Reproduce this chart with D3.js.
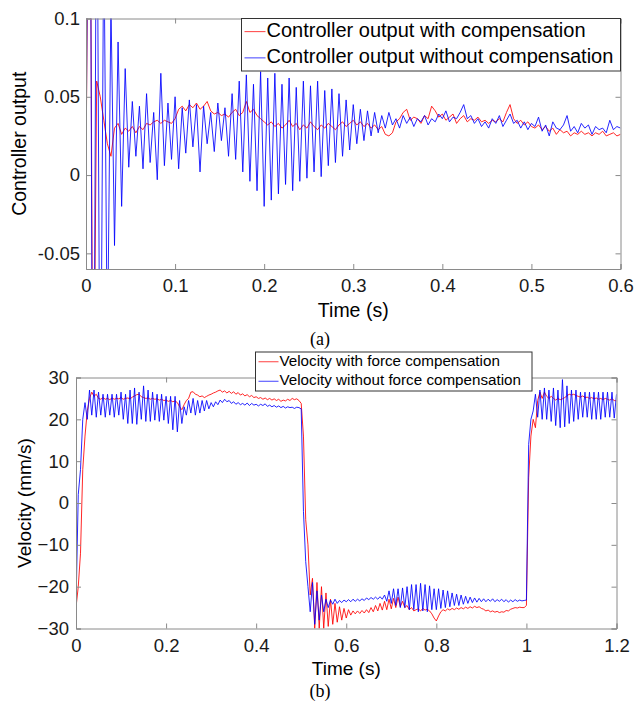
<!DOCTYPE html>
<html><head><meta charset="utf-8">
<script src="https://cdn.jsdelivr.net/npm/d3@7"></script>
<style>body{margin:0;background:#fff}svg{display:block}</style>
</head><body><svg id="c" width="635" height="702"></svg>
<script>
// ---------- DATA ----------
// (a) controller output, sampled every 0.004 s from 0 to 0.6 s
const ctrlDt = 0.004;
const ctrlWith = [0.0,0.3,-0.2,0.06,0.05,0.035,0.02,0.012,0.03,0.033,0.026,0.030,0.028,0.031,0.027,0.031,0.029,0.033,0.032,0.034,
0.035,0.033,0.035,0.034,0.033,0.036,0.042,0.044,0.041,0.045,0.043,0.046,0.042,0.044,0.047,0.041,0.039,0.040,0.038,0.039,
0.037,0.040,0.042,0.038,0.040,0.047,0.040,0.042,0.038,0.036,0.034,0.032,0.034,0.031,0.033,0.030,0.032,0.035,0.031,0.033,
0.029,0.032,0.030,0.034,0.031,0.029,0.032,0.030,0.033,0.031,0.029,0.032,0.034,0.031,0.033,0.035,0.032,0.034,0.031,0.033,
0.030,0.032,0.029,0.031,0.026,0.025,0.027,0.034,0.036,0.040,0.042,0.035,0.037,0.036,0.033,0.038,0.036,0.044,0.041,0.037,
0.039,0.035,0.037,0.039,0.033,0.036,0.038,0.034,0.036,0.035,0.037,0.034,0.035,0.033,0.035,0.034,0.036,0.034,0.040,0.045,
0.036,0.033,0.035,0.032,0.034,0.031,0.030,0.032,0.029,0.031,0.028,0.030,0.026,0.029,0.027,0.028,0.025,0.027,0.026,0.028,
0.026,0.027,0.025,0.027,0.026,0.028,0.025,0.026,0.027,0.025,0.026];
const ctrlWithout = [0.0,0.35,-0.3,0.25,-0.2,0.16,-0.12,0.11,-0.045,0.085,-0.02,0.068,0.005,0.047,0.012,0.044,0.004,0.052,0.008,0.040,
-0.003,0.065,0.006,0.046,0.010,0.050,0.004,0.043,0.014,0.048,0.018,0.045,0.002,0.044,0.020,0.040,0.015,0.046,0.022,0.043,
0.012,0.052,0.010,0.060,0.002,0.064,-0.004,0.058,-0.010,0.066,-0.020,0.062,-0.016,0.065,-0.012,0.058,-0.006,0.062,-0.010,0.056,
-0.004,0.060,-0.002,0.057,0.002,0.060,-0.001,0.054,0.006,0.055,0.008,0.052,0.012,0.048,0.016,0.045,0.020,0.042,0.022,0.041,
0.025,0.040,0.027,0.038,0.030,0.040,0.032,0.036,0.030,0.038,0.033,0.037,0.031,0.036,0.034,0.038,0.032,0.036,0.034,0.039,
0.036,0.041,0.034,0.037,0.036,0.040,0.045,0.036,0.038,0.033,0.036,0.031,0.034,0.030,0.036,0.033,0.038,0.031,0.035,0.039,
0.033,0.035,0.030,0.034,0.029,0.033,0.031,0.037,0.028,0.032,0.025,0.034,0.030,0.029,0.032,0.038,0.028,0.031,0.027,0.033,
0.030,0.032,0.026,0.031,0.029,0.030,0.027,0.035,0.029,0.031,0.030];
const ctrlXTicks = [0,0.1,0.2,0.3,0.4,0.5,0.6];
const ctrlYTicks = [-0.05,0,0.05,0.1];
const ctrlYTickLabels = ["-0.05","0","0.05","0.1"];
const ctrlLegend = ["Controller output with compensation","Controller output without compensation"];

// (b) velocity (mm/s), sampled every 0.005 s from 0 to 1.2 s
const velDt = 0.005;
const velWith = [-25,-20,-12,8,16,22,25,26.5,25.5,26,25,24.8,25.2,24.8,25,24.7,25.1,24.8,25,24.9,
25.2,24.8,25,25.1,24.9,25.3,25.6,25.9,26,25.4,25.2,25,25.1,24.8,25,24.8,24.9,24.6,24.8,24.5,
24.6,24.3,24.5,24.2,24.4,24,23,22.3,23.5,24.5,25,26.5,26.6,26,25.8,25.4,25.6,25.2,25.5,25.8,
26,26.3,26.5,26.8,27,26.5,26.8,26.3,26.7,26.2,26.6,26,26.4,25.8,26.1,25.6,25.9,25.4,25.7,25.2,
25.4,25,25.2,24.8,25.1,24.7,25,24.6,24.9,24.5,24.8,24.3,24.6,24.4,24.8,24.5,25,24.7,24.9,24.5,
23.8,16,-4,-10,-22,-18,-30,-19,-30,-20,-30,-21.5,-29.5,-23,-29,-24,-28.5,-24.8,-28,-25.2,
-27.5,-25.5,-26.8,-25.8,-26.5,-25.8,-26.4,-25.7,-26.3,-25.5,-26.2,-25,-26,-24.5,-25.8,-24,-25.6,-23.5,-25.5,-23,
-25.3,-22.8,-25,-22.5,-24.8,-23.5,-25,-24.5,-25.5,-25,-25.8,-25.5,-25.3,-25.8,-25.2,-25.6,-25.4,-25.8,-26.5,-27.5,
-28.2,-27,-26,-25.5,-25.8,-25.3,-25.6,-25.2,-25.5,-25.1,-25.4,-25,-25.3,-24.9,-25.2,-24.8,-25.1,-24.7,-25,-24.8,
-25.2,-25.4,-25.8,-25.6,-26,-25.8,-26.1,-25.9,-26.2,-26,-26.1,-25.7,-25.8,-25.4,-25.2,-25,-25.1,-24.9,-25,-25,
-24.5,6,16,20,18,24.5,26.5,25,26.5,25.5,25,25.5,25,24.6,25,24.7,24.9,25.2,25.6,26,
25.8,26,25.7,25.5,25.3,25.6,25.2,25.3,25,25.2,24.9,25.1,24.8,25,24.7,25,24.8,24.6,24.9,24.5,
24.4];
const velWithout = [-24.5,2,8,20,24,20,27,21,27,20.5,26.5,21,26,20.5,26,21,26,20.5,26,21,
26.5,20,26,19,27,19,27.5,18.8,26.5,20,28,19.5,27,19.5,26.5,19.8,26,19.5,26,19.8,
25.5,19,25.5,17.5,25.5,17,24.5,19,23,21,24.5,21.5,25,21,24.5,21.5,24.5,22,24.5,22.5,
24,23,24.2,23.5,24.6,24,24.8,24.2,24.5,23.8,24.2,23.6,24,23.5,23.8,23.4,23.9,23.3,23.8,23.4,
23.6,23.2,23.6,23.3,23.7,23.1,23.4,23,23.3,22.9,23.2,22.8,23.1,22.7,23,22.8,22.9,22.6,22.9,22.8,
22.5,-2,-14,-20,-26,-19,-29,-21,-28,-22,-26,-23,-25,-23.2,-24.2,-23,-24,-23.3,-23.8,-23.2,
-23.6,-23.1,-23.6,-23,-23.5,-23,-23.4,-22.9,-23.3,-22.7,-23.1,-22.6,-23,-22.5,-23,-22.4,-23,-22,-23.5,-21,
-24,-20.5,-24.5,-20.5,-25,-20.3,-25,-20,-25.5,-19.5,-25.5,-19.5,-26,-19.2,-25.8,-19.5,-26,-19.8,-25.5,-20.5,
-25.5,-20.5,-25.2,-20.8,-25,-21,-24.8,-21.5,-24.5,-21.8,-24.5,-22,-24.2,-22.3,-24,-22.5,-23.8,-22.7,-23.7,-22.8,
-23.6,-22.9,-23.6,-23,-23.5,-22.9,-23.6,-23.1,-23.5,-23,-23.6,-23.1,-23.7,-23.2,-23.6,-23.1,-23.5,-23.2,-23.4,-23.3,
-23.2,14,20,22,26,20.5,27,20,27.5,20,27,19.5,27.5,18.5,27,18,29.5,18.2,28,19,
27,19.5,27,20,26.5,20.5,26.5,20.5,26.5,20,26.5,20,26.5,20,26.5,20.5,26.5,20.5,26.5,20.3,
26];
const velXTicks = [0,0.2,0.4,0.6,0.8,1,1.2];
const velYTicks = [-30,-20,-10,0,10,20,30];
const velLegend = ["Velocity with force compensation","Velocity without force compensation"];

// ---------- DRAW ----------
const svg = d3.select("#c");
const RED = "#ff0000", BLUE = "#0000ff", AX = "#8a8a8a", TXT = "#1a1a1a";
const FONT = "Liberation Sans, Arial, sans-serif";

function panel(o){
  const x = d3.scaleLinear().domain(o.xd).range([o.l, o.r]);
  const y = d3.scaleLinear().domain(o.yd).range([o.b, o.t]);
  const g = svg.append("g");
  const cid = "clip" + o.id;
  svg.append("clipPath").attr("id", cid).append("rect")
    .attr("x", o.l).attr("y", o.t).attr("width", o.r - o.l).attr("height", o.b - o.t);
  const line = d3.line().x(d => x(d[0])).y(d => y(d[1]));
  o.series.forEach(s => {
    g.append("path").attr("clip-path", `url(#${cid})`)
      .datum(s.values.map((v, i) => [i * o.dt, v]))
      .attr("d", line).attr("fill", "none").attr("stroke", s.color)
      .attr("stroke-width", 1).attr("stroke-opacity", 0.85).attr("stroke-linejoin", "round");
  });
  const tl = 5;
  const axB = d3.axisBottom(x).tickValues(o.xt).tickSize(-tl).tickPadding(o.xpad).tickFormat(d3.format("~g"));
  const axT = d3.axisTop(x).tickValues(o.xt).tickSize(-tl).tickFormat("");
  const axL = d3.axisLeft(y).tickValues(o.yt).tickSize(-tl).tickPadding(o.ypad)
      .tickFormat((d, i) => o.ytl ? o.ytl[i] : d3.format("~g")(d));
  const axR = d3.axisRight(y).tickValues(o.yt).tickSize(-tl).tickFormat("");
  const style = a => {
    a.selectAll("path,line").attr("stroke", AX);
    a.selectAll("text").attr("fill", TXT).style("font-family", FONT).style("font-size", o.fs + "px");
  };
  svg.append("g").attr("transform", `translate(0,${o.b})`).call(axB).call(style);
  svg.append("g").attr("transform", `translate(0,${o.t})`).call(axT).call(style);
  svg.append("g").attr("transform", `translate(${o.l},0)`).call(axL).call(style);
  svg.append("g").attr("transform", `translate(${o.r},0)`).call(axR).call(style);
  svg.append("text").attr("x", (o.l + o.r) / 2).attr("y", o.xly).attr("text-anchor", "middle")
    .attr("dominant-baseline", "middle").style("font-family", FONT).style("font-size", o.tfs + "px")
    .attr("fill", "#000").text("Time (s)");
  svg.append("text").attr("transform", `translate(${o.ylx},${(o.t + o.b) / 2}) rotate(-90)`)
    .attr("text-anchor", "middle").attr("dominant-baseline", "middle")
    .style("font-family", FONT).style("font-size", o.tfs + "px").attr("fill", "#000").text(o.ylab);
  const L = o.leg;
  svg.append("rect").attr("x", L.x).attr("y", L.y).attr("width", L.w).attr("height", L.h)
    .attr("fill", "#fff").attr("stroke", "#333").attr("stroke-width", 1);
  o.series.forEach((s, i) => {
    const yy = L.y + L.h * (i * 2 + 1) / 4;
    svg.append("line").attr("x1", L.x + 3).attr("x2", L.x + 3 + L.lw).attr("y1", yy).attr("y2", yy)
      .attr("stroke", s.color).attr("stroke-opacity", 0.75).attr("stroke-width", 1);
    svg.append("text").attr("x", L.x + 4 + L.lw).attr("y", yy).attr("dominant-baseline", "middle")
      .style("font-family", FONT).style("font-size", L.fs + "px").attr("fill", "#000").text(o.labels[i]);
  });
}

panel({id:"a", l:86, r:620.5, t:18.5, b:269, xd:[0,0.6], yd:[-0.06,0.1], dt:ctrlDt,
  xt:ctrlXTicks, yt:ctrlYTicks, ytl:ctrlYTickLabels, fs:18.5, tfs:19.5, xpad:10, ypad:6,
  xly:312, ylx:21, ylab:"Controller output",
  series:[{values:ctrlWith,color:RED},{values:ctrlWithout,color:BLUE}],
  labels:ctrlLegend, leg:{x:241.5, y:18.5, w:379, h:52.5, lw:21, fs:20}});

panel({id:"b", l:76, r:616.5, t:377.5, b:628.5, xd:[0,1.2], yd:[-30,30], dt:velDt,
  xt:velXTicks, yt:velYTicks, fs:18.5, tfs:19, xpad:10, ypad:7,
  xly:670, ylx:26, ylab:"Velocity (mm/s)",
  series:[{values:velWith,color:RED},{values:velWithout,color:BLUE}],
  labels:velLegend, leg:{x:255.5, y:352, w:276.5, h:39, lw:20, fs:15.2}});

svg.append("text").attr("x", 320).attr("y", 341).attr("text-anchor", "middle").attr("dominant-baseline", "middle")
  .style("font-family", "Liberation Serif, Times New Roman, serif").style("font-size", "18px").text("(a)");
svg.append("text").attr("x", 320).attr("y", 693).attr("text-anchor", "middle").attr("dominant-baseline", "middle")
  .style("font-family", "Liberation Serif, Times New Roman, serif").style("font-size", "18px").text("(b)");
</script></body></html>
